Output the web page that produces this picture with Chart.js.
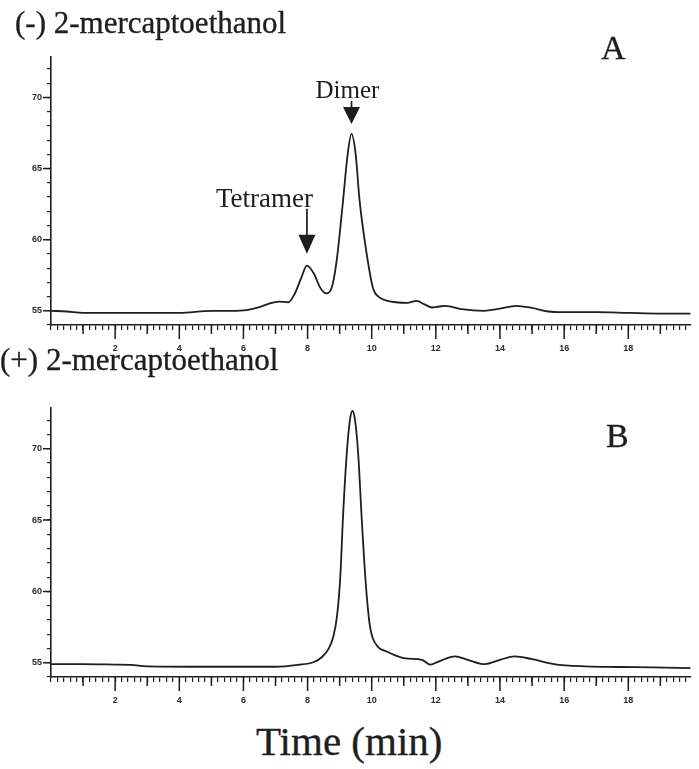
<!DOCTYPE html>
<html>
<head>
<meta charset="utf-8">
<script src="https://cdn.jsdelivr.net/npm/chart.js@4.4.1/dist/chart.umd.min.js"></script>
<style>
    body { margin: 0; background: #fff; }
    #wrap { position: relative; width: 699px; height: 769px; overflow: hidden; font-family: "Liberation Serif", "DejaVu Serif", serif; color: #1e1e1e; }
    #wrap canvas { position: absolute; left: 0; }
    .txt { position: absolute; white-space: nowrap; line-height: 1; -webkit-text-stroke: 0.35px #1e1e1e; }
</style>
</head>
<body>
<div id="wrap">
    <canvas id="chartA" width="699" height="315" style="top:40px"></canvas>
    <canvas id="chartB" width="699" height="317" style="top:390px"></canvas>
    <div class="txt" style="left:15px; top:7px; font-size:31px;">(-) 2-mercaptoethanol</div>
    <div class="txt" style="left:601px; top:31px; font-size:34px;">A</div>
    <div class="txt" style="left:0px; top:344px; font-size:31px;">(+) 2-mercaptoethanol</div>
    <div class="txt" style="left:606px; top:419px; font-size:34px;">B</div>
    <div class="txt" style="left:256px; top:721px; font-size:41px;">Time (min)</div>
</div>
<script>
// Panel A: (-) 2-mercaptoethanol
const timesA = [0, 0.5, 1, 2, 3, 4, 5, 5.6, 6.1, 6.5, 6.8, 7.1, 7.4, 7.6, 7.8, 7.98, 8.2, 8.4, 8.58, 8.75, 8.9, 9.1, 9.25, 9.37, 9.5, 9.62, 9.83, 10.04, 10.24, 10.5, 10.75, 11.1, 11.4, 11.65, 11.88, 12.1, 12.3, 12.8, 13.5, 14.0, 14.5, 15.0, 15.5, 16.0, 17, 18, 19, 19.95];
const valuesA = [55.0, 54.95, 54.85, 54.85, 54.85, 54.85, 55.0, 55.0, 55.05, 55.25, 55.5, 55.65, 55.6, 56.2, 57.3, 58.17, 57.6, 56.6, 56.22, 56.6, 58.4, 62.6, 66.0, 67.44, 66.0, 62.8, 59.2, 56.6, 55.94, 55.7, 55.6, 55.55, 55.7, 55.45, 55.23, 55.3, 55.35, 55.12, 55.0, 55.15, 55.35, 55.2, 54.95, 54.9, 54.9, 54.85, 54.8, 54.8];

// Panel B: (+) 2-mercaptoethanol
const timesB = [0, 1, 2, 2.5, 3, 5, 7, 7.7, 8.2, 8.45, 8.65, 8.8, 8.92, 9.02, 9.11, 9.22, 9.32, 9.4, 9.48, 9.58, 9.68, 9.81, 9.93, 10.02, 10.2, 10.45, 10.75, 11.06, 11.57, 11.83, 12.1, 12.6, 13.0, 13.52, 14.0, 14.45, 15.0, 15.68, 16.7, 17.7, 18.75, 19.95];
const valuesB = [54.9, 54.9, 54.87, 54.85, 54.75, 54.72, 54.72, 54.85, 55.05, 55.4, 55.95, 56.8, 58.3, 61.0, 65.45, 69.6, 72.0, 72.64, 72.0, 69.6, 65.45, 60.7, 57.8, 56.8, 56.1, 55.8, 55.5, 55.3, 55.2, 54.87, 55.1, 55.45, 55.2, 54.9, 55.2, 55.45, 55.25, 54.9, 54.74, 54.7, 54.67, 54.62];

// Axis ticks
const xLabels = [2, 4, 6, 8, 10, 12, 14, 16, 18];
const yLabels = [55, 60, 65, 70];

// Peak annotations (panel A)
const peakNotes = [
    { text: 'Dimer', x: 9.37, y: 67.44 },
    { text: 'Tetramer', x: 7.98, y: 58.17 }
];

const ink = '#1e1e1e';

const xMinor = [];
for (let i = 0; i <= 99; i++) xMinor.push(Math.round(i * 2) / 10);
const yMinor = [];
for (let v = 54; v <= 72; v++) yMinor.push(v);

// longer tick marks at whole minutes and labelled values
const longTicks = {
    id: 'longTicks',
    afterDraw(chart) {
        const ctx = chart.ctx;
        const xs = chart.scales.x, ys = chart.scales.y;
        ctx.save();
        ctx.strokeStyle = ink;
        ctx.lineWidth = 1.5;
        ctx.beginPath();
        for (let m = 1; m <= 19; m++) {
            const px = xs.getPixelForValue(m);
            ctx.moveTo(px, xs.top);
            ctx.lineTo(px, xs.top + (m % 2 === 0 ? 14 : 9));
        }
        yLabels.forEach(v => {
            const py = ys.getPixelForValue(v);
            ctx.moveTo(ys.right, py);
            ctx.lineTo(ys.right - 8, py);
        });
        ctx.stroke();
        ctx.restore();
    }
};

const arrows = {
    id: 'arrows',
    afterDatasetsDraw(chart, args, opts) {
        if (!opts.notes) return;
        const ctx = chart.ctx;
        const xs = chart.scales.x, ys = chart.scales.y;
        ctx.save();
        ctx.fillStyle = ink;
        ctx.strokeStyle = ink;
        ctx.lineWidth = 1.7;
        opts.notes.forEach(n => {
            const big = n.text === 'Tetramer';
            const px = xs.getPixelForValue(n.x);
            const tip = ys.getPixelForValue(n.y) - (big ? 12 : 10);
            const headTop = tip - (big ? 19 : 17);
            const shaftTop = headTop - (big ? 26 : 6);
            ctx.beginPath();
            ctx.moveTo(px, shaftTop);
            ctx.lineTo(px, headTop + 2);
            ctx.stroke();
            ctx.beginPath();
            ctx.moveTo(px - 8.5, headTop);
            ctx.lineTo(px + 8.5, headTop);
            ctx.lineTo(px, tip);
            ctx.closePath();
            ctx.fill();
            ctx.font = (big ? 27 : 25) + 'px "Liberation Serif"';
            ctx.textBaseline = 'alphabetic';
            if (big) {
                ctx.textAlign = 'right';
                ctx.fillText(n.text, px + 6, shaftTop - 2);
            } else {
                ctx.textAlign = 'center';
                ctx.fillText(n.text, px - 4, shaftTop - 3);
            }
        });
        ctx.restore();
    }
};

function makeChart(id, times, values, padTop, notes) {
    const ctx = document.getElementById(id).getContext('2d');
    return new Chart(ctx, {
        type: 'line',
        data: {
            datasets: [{
                data: times.map((t, i) => ({ x: t, y: values[i] })),
                borderColor: ink,
                borderWidth: 1.8,
                pointRadius: 0,
                fill: false,
                cubicInterpolationMode: 'monotone'
            }]
        },
        options: {
            responsive: false,
            animation: false,
            layout: { padding: { top: padTop, right: 0, left: 0, bottom: 0 } },
            plugins: {
                legend: { display: false },
                tooltip: { enabled: false },
                arrows: { notes: notes }
            },
            scales: {
                x: {
                    type: 'linear',
                    min: 0,
                    max: 19.94,
                    afterBuildTicks: s => { s.ticks = xMinor.map(v => ({ value: v })); },
                    afterFit: s => { s.height = 30; },
                    grid: { drawOnChartArea: false, tickLength: 5, color: ink, lineWidth: 1.2 },
                    border: { color: ink, width: 1.6 },
                    ticks: {
                        autoSkip: false,
                        maxRotation: 0,
                        padding: 13,
                        color: '#2a2a2a',
                        font: { family: 'Liberation Sans', size: 9, weight: 'bold' },
                        callback: v => xLabels.includes(Math.round(v * 10) / 10) ? String(Math.round(v)) : ''
                    }
                },
                y: {
                    min: 54,
                    max: 72.85,
                    afterBuildTicks: s => { s.ticks = yMinor.map(v => ({ value: v })); },
                    afterFit: s => { s.width = 51; },
                    grid: { drawOnChartArea: false, tickLength: 4, color: ink, lineWidth: 1.2 },
                    border: { color: ink, width: 1.6 },
                    ticks: {
                        autoSkip: false,
                        padding: 5,
                        color: '#2a2a2a',
                        font: { family: 'Liberation Sans', size: 9, weight: 'bold' },
                        callback: v => yLabels.includes(v) ? String(v) : ''
                    }
                }
            }
        },
        plugins: [longTicks, arrows]
    });
}

makeChart('chartA', timesA, valuesA, 17, peakNotes);
makeChart('chartB', timesB, valuesB, 18, null);
</script>
</body>
</html>
